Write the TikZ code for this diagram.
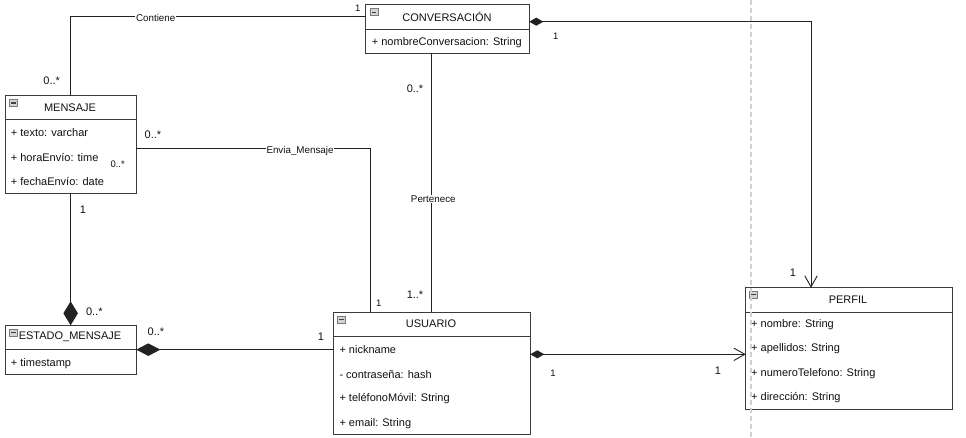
\documentclass[tikz,border=0pt]{standalone}
\usepackage{fontspec}
\setmainfont{Liberation Sans}
\usetikzlibrary{arrows.meta}
\definecolor{bord}{HTML}{3A3A3A}
\definecolor{linec}{HTML}{222222}
\definecolor{iconfill}{HTML}{D4D4D4}
\definecolor{iconbord}{HTML}{7A7A7A}
\definecolor{dashc}{HTML}{D0D0D0}
\definecolor{txt}{HTML}{111111}
\tikzset{
  cbox/.style={draw=bord, line width=0.9pt, inner sep=0pt, outer sep=0pt, fill=white},
  divider/.style={draw=bord, line width=0.9pt},
  ctitle/.style={inner sep=0pt, font=\fontsize{11}{13}\selectfont, text=txt},
  attr/.style={anchor=west, inner sep=0pt, font=\fontsize{11}{13}\selectfont, text=txt},
  mult/.style={inner sep=0pt, font=\fontsize{11}{13}\selectfont, text=txt},
  multsm/.style={inner sep=0pt, font=\fontsize{9.5}{11}\selectfont, text=txt},
  lbl/.style={fill=white, inner sep=0.8pt, font=\fontsize{9.8}{12}\selectfont, text=txt},
  conn/.style={draw=linec, line width=0.9pt},
  minusicon/.pic={
    \draw[draw=iconbord, fill=iconfill, line width=0.6pt] (0,0) rectangle (8,7);
    \draw[draw=black!75, line width=1.2pt] (1.6,3.5) -- (6.4,3.5);
  }
}
\begin{document}
\begin{tikzpicture}[x=1pt,y=-1pt]
\useasboundingbox (0,0) rectangle (966,437);

% ---------- classes ----------
\node[cbox, minimum width=163.6pt, minimum height=48.6pt] (conv) at (447.5,29) {};
\draw[divider] ([yshift=-24.6pt]conv.north west) -- ([yshift=-24.6pt]conv.north east);
\pic at ([shift={(4.3pt,-4pt)}]conv.north west) {minusicon};
\node[ctitle] (convt) at (447,17) {CONVERSACIÓN};
\node[attr] (conva1) at (371.7,42.3) {+ nombreConversacion: String};

\node[cbox, minimum width=131.3pt, minimum height=97.3pt] (mensaje) at (70.65,144.35) {};
\draw[divider] ([yshift=-24pt]mensaje.north west) -- ([yshift=-24pt]mensaje.north east);
\pic at ([shift={(4.3pt,-3.8pt)}]mensaje.north west) {minusicon};
\node[ctitle] (mensajet) at (70,108) {MENSAJE};
\node[attr] (mensajea1) at (10.7,132.3) {+ texto: varchar};
\node[attr] (mensajea2) at (10.7,157) {+ horaEnvío: time};
\node[attr] (mensajea3) at (10.7,181.3) {+ fechaEnvío: date};

\node[cbox, minimum width=131.3pt, minimum height=48.7pt] (estado) at (70.65,349.65) {};
\draw[divider] ([yshift=-24pt]estado.north west) -- ([yshift=-24pt]estado.north east);
\pic at ([shift={(4.3pt,-3.8pt)}]estado.north west) {minusicon};
\node[ctitle] (estadot) at (70,336.7) {ESTADO\_MENSAJE};
\node[attr] (estadoa1) at (10.7,363.3) {+ timestamp};

\node[cbox, minimum width=197pt, minimum height=122pt] (usuario) at (431.8,373) {};
\draw[divider] ([yshift=-24pt]usuario.north west) -- ([yshift=-24pt]usuario.north east);
\pic at ([shift={(4.3pt,-4pt)}]usuario.north west) {minusicon};
\node[ctitle] (usuariot) at (431,324) {USUARIO};
\node[attr] (usuarioa1) at (339.3,349.3) {+ nickname};
\node[attr] (usuarioa2) at (339.3,374.3) {- contraseña: hash};
\node[attr] (usuarioa3) at (339.3,398.3) {+ teléfonoMóvil: String};
\node[attr] (usuarioa4) at (339.3,423.3) {+ email: String};

\node[cbox, minimum width=206.3pt, minimum height=121.3pt] (perfil) at (848.85,348.35) {};
\draw[divider] ([yshift=-24.3pt]perfil.north west) -- ([yshift=-24.3pt]perfil.north east);
\pic at ([shift={(4pt,-3.6pt)}]perfil.north west) {minusicon};
\node[ctitle] (perfilt) at (848,300) {PERFIL};
\node[attr] (perfila1) at (751,325) {+ nombre: String};
\node[attr] (perfila2) at (751,349) {+ apellidos: String};
\node[attr] (perfila3) at (751,374) {+ numeroTelefono: String};
\node[attr] (perfila4) at (751,398) {+ dirección: String};

% ---------- connectors ----------
\draw[conn] (mensaje.north) |- ([yshift=-12pt]conv.north west);
\node[lbl] (lcontiene) at (155.7,18) {Contiene};

\draw[conn] ([yshift=-52.3pt]mensaje.north east) -| ([xshift=37.4pt]usuario.north west);
\node[lbl] (lenvia) at (300,150.7) {Envia\_Mensaje};

\draw[conn] (conv.south -| usuario.north) -- (usuario.north);
\node[lbl] (lpertenece) at (433.3,199) {Pertenece};

\draw[conn, -{Diamond[length=24pt,width=14.5pt]}] (mensaje.south) -- (estado.north);

\draw[conn, {Diamond[length=24pt,width=12.5pt]}-] (estado.east) -- (estado.east -| usuario.west);

\draw[conn, {Diamond[length=14pt,width=8pt]}-{Straight Barb[length=11pt,width=12.5pt]}]
  ([yshift=-17pt]conv.north east) -| ([xshift=65.3pt]perfil.north west);

\draw[conn, {Diamond[length=14pt,width=8pt]}-{Straight Barb[length=11pt,width=12.5pt]}]
  ([yshift=-42.3pt]usuario.north east) -- ([yshift=-42.3pt]usuario.north east -| perfil.west);

% ---------- multiplicities ----------
\node[multsm] (m1) at (357.7,8) {1};
\node[mult] (m2) at (51.7,80.7) {0..*};
\node[mult] (m3) at (153,135) {0..*};
\node[multsm] (m4) at (117.7,164.3) {0..*};
\node[mult] (m5) at (83,210) {1};
\node[mult] (m6) at (94.3,312) {0..*};
\node[mult] (m7) at (156,332) {0..*};
\node[mult] (m8) at (321,337) {1};
\node[multsm] (m9) at (378.7,303.3) {1};
\node[mult] (m10) at (415,89) {0..*};
\node[mult] (m11) at (415,295) {1..*};
\node[multsm] (m12) at (555.7,36.7) {1};
\node[mult] (m13) at (793,273) {1};
\node[multsm] (m14) at (553,373.3) {1};
\node[mult] (m15) at (718,371) {1};

% ---------- page guide ----------
\coordinate (gtop) at (751,0);
\coordinate (gbot) at (751,437);
\draw[dashc, line width=1.1pt, dash pattern=on 5pt off 3pt] (gtop) -- (gbot);
\end{tikzpicture}
\end{document}
